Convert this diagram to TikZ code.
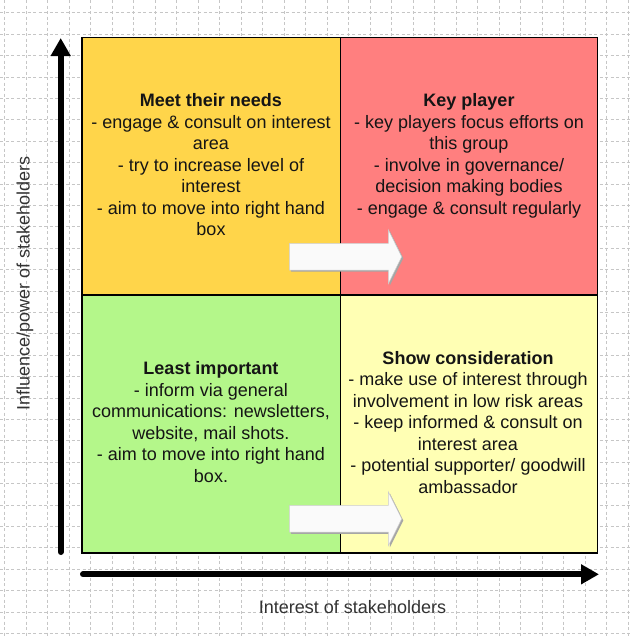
\documentclass[tikz,border=0pt]{standalone}
\usepackage{fontspec}
\setmainfont{Liberation Sans}
\usepackage{tikz}
\usetikzlibrary{arrows.meta}

\definecolor{needsfill}{HTML}{FFD54A}
\definecolor{keyfill}{HTML}{FF7F7F}
\definecolor{leastfill}{HTML}{B4F78A}
\definecolor{considerfill}{HTML}{FFFFB4}
\definecolor{shiftfill}{HTML}{FAFAFA}
\definecolor{inkgray}{HTML}{151515}
\definecolor{labelgray}{HTML}{333333}

\begin{document}
\begin{tikzpicture}[x=1pt,y=-1pt,
  gridline/.style={gray!45,line width=0.6pt,dash pattern=on 3pt off 2.5pt},
  quadtext/.style={align=center,inner sep=0pt,anchor=north,text=inkgray,font=\fontsize{18}{21.5}\selectfont},
  axislabel/.style={inner sep=0pt,text=labelgray,font=\fontsize{18}{21.5}\selectfont},
  axis/.style={line width=6pt,line cap=round,-{Triangle[length=18pt,width=19pt]}}]
\useasboundingbox (0,0) rectangle (631,637);
\fill[white](0,0) rectangle (631,637);
% background grid
\foreach \gx in {0,...,29} \draw[gridline](4.5+21.5*\gx,0)--(4.5+21.5*\gx,637);
\foreach \gy in {0,...,29} \draw[gridline](0,12.6+21.4*\gy)--(631,12.6+21.4*\gy);
% the four boxes
\draw[line width=1.2pt,fill=needsfill](82,37.5) rectangle (340.5,295);
\draw[line width=1.2pt,fill=keyfill](340.5,37.5) rectangle (597.5,295);
\draw[line width=1.2pt,fill=leastfill](82,295) rectangle (340.5,553);
\draw[line width=1.2pt,fill=considerfill](340.5,295) rectangle (597.5,553);
% move to the right hand box
\foreach \ay in {256.7,518.8}{
\fill[gray!70,shift={(1.6,1.6)}](289.3,\ay-13.4)--(388.3,\ay-13.4)--(388.3,\ay-27)--(401.7,\ay)--(388.3,\ay+27)--(388.3,\ay+13.4)--(289.3,\ay+13.4)--cycle;
\draw[gray!40,line width=0.5pt,fill=shiftfill](289.3,\ay-13.4)--(388.3,\ay-13.4)--(388.3,\ay-27)--(401.7,\ay)--(388.3,\ay+27)--(388.3,\ay+13.4)--(289.3,\ay+13.4)--cycle;
}
% box texts
\node[quadtext](needs) at (211,93.5){\textbf{Meet their needs}\\- engage \& consult on interest\\area\\- try to increase level of\\interest\\- aim to move into right hand\\box};
\node[quadtext](key) at (469,93.5){\textbf{Key player}\\- key players focus efforts on\\this group\\- involve in governance/\\decision making bodies\\- engage \& consult regularly};
\node[quadtext](least) at (211,361.5){\textbf{Least important}\\- inform via general\\communications: newsletters,\\website, mail shots.\\- aim to move into right hand\\box.};
\node[quadtext](consider) at (468,350.8){\textbf{Show consideration}\\- make use of interest through\\involvement in low risk areas\\- keep informed \& consult on\\interest area\\- potential supporter/ goodwill\\ambassador};
% axes
\coordinate (yfoot) at (60.7,552);
\coordinate (ytip) at (60.7,38);
\draw[axis](yfoot)--(ytip);
\coordinate (xfoot) at (83,574.3);
\coordinate (xtip) at (599,574.3);
\draw[axis](xfoot)--(xtip);
\node[axislabel,rotate=90](ylab) at (25,283.5){Influence/power of stakeholders};
\node[axislabel](xlab) at (352.5,607){Interest of stakeholders};
\end{tikzpicture}
\end{document}
